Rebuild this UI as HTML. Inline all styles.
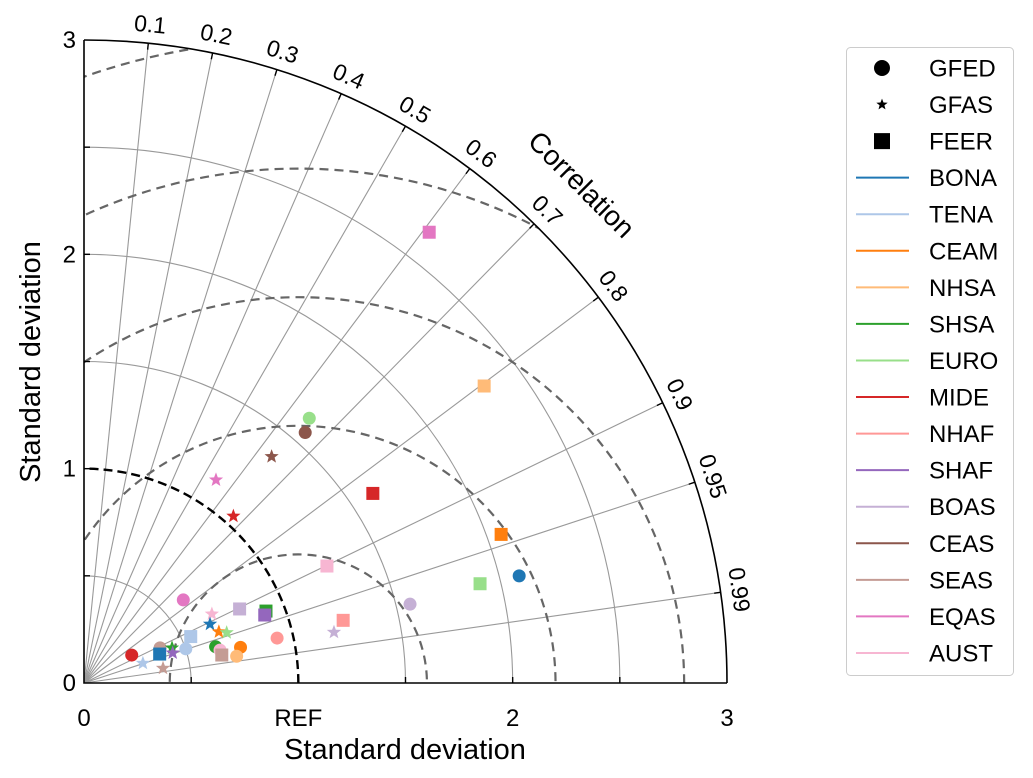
<!DOCTYPE html>
<html><head><meta charset="utf-8"><style>
html,body{margin:0;padding:0;background:#fff;overflow:hidden;width:1033px;height:778px;}
svg{display:block;font-family:"Liberation Sans",Arial,sans-serif;}
</style></head><body>
<svg id="chart" width="1033" height="778" viewBox="0 0 1033 778"></svg>
<script>
const regions = ["BONA","TENA","CEAM","NHSA","SHSA","EURO","MIDE","NHAF","SHAF","BOAS","CEAS","SEAS","EQAS","AUST"];
const regionColors = ["#1f77b4","#aec7e8","#ff7f0e","#ffbb78","#2ca02c","#98df8a","#d62728","#ff9896","#9467bd","#c5b0d5","#8c564b","#c49c94","#e377c2","#f7b6d2"];
const datasets = ["GFED","GFAS","FEER"];
const corrTicks = [0.1,0.2,0.3,0.4,0.5,0.6,0.7,0.8,0.9,0.95,0.99];
const stdArcs = [0.5,1.5,2,2.5];
const rmsCircles = [0.6,1.2,1.8,2.4,3.0];
const refStd = 1;
// points: region, dataset, std, correlation
const ptRegion = ["EQAS","MIDE","TENA","SEAS","BONA","SEAS","SHSA","SHAF","TENA","TENA","AUST","BONA","CEAM","EURO","BOAS","SHSA","SHAF","SHSA","AUST","SEAS","CEAM","NHSA","NHAF","BOAS","NHAF","AUST","EURO","CEAS","CEAS","EQAS","MIDE","MIDE","CEAM","BONA","EURO","BOAS","EQAS","NHSA"];
const ptDataset = ["GFED","GFED","GFAS","GFED","FEER","GFAS","GFAS","GFAS","GFED","FEER","GFAS","GFAS","GFAS","GFAS","FEER","FEER","FEER","GFED","GFED","FEER","GFED","GFED","GFED","GFAS","FEER","FEER","GFED","GFED","GFAS","GFAS","GFAS","FEER","FEER","GFED","FEER","GFED","FEER","FEER"];
const ptStd = [0.604,0.258,0.290,0.391,0.378,0.375,0.442,0.437,0.501,0.543,0.678,0.649,0.673,0.706,0.804,0.913,0.901,0.637,0.653,0.656,0.749,0.723,0.925,1.190,1.244,1.258,1.622,1.559,1.372,1.130,1.045,1.612,2.066,2.091,1.905,1.565,2.649,2.325];
const ptCorr = [0.767,0.863,0.948,0.908,0.934,0.983,0.929,0.947,0.948,0.917,0.880,0.906,0.935,0.943,0.903,0.930,0.936,0.964,0.972,0.980,0.975,0.985,0.974,0.980,0.972,0.901,0.648,0.662,0.638,0.545,0.667,0.836,0.942,0.971,0.970,0.972,0.608,0.803];

const NS="http://www.w3.org/2000/svg";
const svg=document.getElementById('chart');
const ox=84, oy=683, scale=(727-84)/3, maxStd=3;
const X=v=>ox+v*scale, Y=v=>oy-v*scale;
function P(s,c){const a=Math.acos(c);return [X(s*Math.cos(a)),Y(s*Math.sin(a))];}
function el(tag,attrs,parent){const e=document.createElementNS(NS,tag);for(const k in attrs)e.setAttribute(k,attrs[k]);(parent||svg).appendChild(e);return e;}

const grid=el('g',{});


corrTicks.forEach(c=>{const [x,y]=P(maxStd,c);
  const l=el('line',{x1:ox,y1:oy,x2:x,y2:y,stroke:'#999','stroke-width':1.1},grid);
  
  
});
stdArcs.forEach(s=>{
  const a=el('path',{d:`M${X(s)},${oy} A${s*scale},${s*scale} 0 0 0 ${ox},${Y(s)}`,fill:'none',stroke:'#999','stroke-width':1.1},grid);
  
  
});
el('clipPath',{id:'quad'}).appendChild((()=>{const p=document.createElementNS(NS,'path');p.setAttribute('d',`M${ox},${oy} L${X(maxStd)},${oy} A${maxStd*scale},${maxStd*scale} 0 0 0 ${ox},${Y(maxStd)} Z`);return p;})());
rmsCircles.forEach(r=>{
  const c=el('circle',{cx:X(refStd),cy:oy,r:r*scale,fill:'none',stroke:'#666','stroke-width':2.2,'stroke-dasharray':'9,6','clip-path':'url(#quad)'},grid);
  
  
});
const ra=el('path',{d:`M${X(refStd)},${oy} A${refStd*scale},${refStd*scale} 0 0 0 ${ox},${Y(refStd)}`,fill:'none',stroke:'#000','stroke-width':2.4,'stroke-dasharray':'9,5'});


const oa=el('path',{d:`M${X(maxStd)},${oy} A${maxStd*scale},${maxStd*scale} 0 0 0 ${ox},${Y(maxStd)}`,fill:'none',stroke:'#000','stroke-width':1.6});


const ax=el('path',{d:`M${ox},${Y(maxStd)} L${ox},${oy} L${X(maxStd)},${oy}`,fill:'none',stroke:'#000','stroke-width':1.6});


[0.5,1,1.5,2,2.5].forEach(v=>{el('line',{x1:X(v),y1:oy,x2:X(v),y2:oy-6,stroke:'#000','stroke-width':1.4});});
[0.5,1,1.5,2,2.5].forEach(v=>{el('line',{x1:ox,y1:Y(v),x2:ox+6,y2:Y(v),stroke:'#000','stroke-width':1.4});});
corrTicks.forEach(c=>{
  const a=Math.acos(c);
  const [x1,y1]=P(maxStd,c),[x2,y2]=P(maxStd-0.03,c);
  el('line',{x1,y1,x2,y2,stroke:'#000','stroke-width':1.4});
  const [lx,ly]=P(maxStd+0.08,c);
  const t=el('text',{x:lx,y:ly,'font-size':23,'text-anchor':'middle','dominant-baseline':'middle',transform:`rotate(${90-a*180/Math.PI},${lx},${ly})`});
  t.textContent=String(c);
  
  
});
const ct=el('text',{x:580,y:186,'font-size':28,'text-anchor':'middle','dominant-baseline':'middle',transform:'rotate(45,580,186)'});
ct.textContent='Correlation';


const yl=["0","1","2","3"];
yl.forEach((s,i)=>{const t=el('text',{x:ox-8,y:Y(i)+8,'font-size':24,'text-anchor':'end'});t.textContent=s;
  
  });
const xl=[[0,"0"],[1,"REF"],[2,"2"],[3,"3"]];
xl.forEach(([v,s])=>{const t=el('text',{x:X(v),y:726,'font-size':24,'text-anchor':'middle'});t.textContent=s;
  
  });
const xt=el('text',{x:405,y:759,'font-size':29,'text-anchor':'middle'});xt.textContent='Standard deviation';


const yt=el('text',{x:40,y:362,'font-size':29,'text-anchor':'middle',transform:'rotate(-90,40,362)'});yt.textContent='Standard deviation';



function starPath(cx,cy,R){const r=R*0.42;let d='';for(let i=0;i<10;i++){const rr=i%2?r:R;const a=-Math.PI/2+i*Math.PI/5;d+=(i?'L':'M')+(cx+rr*Math.cos(a)).toFixed(1)+','+(cy+rr*Math.sin(a)).toFixed(1);}return d+'Z';}
function marker(kind,x,y,color,parent,big){
  if(kind==='GFED')return el('circle',{cx:x,cy:y,r:big?8:6.5,fill:color},parent);
  if(kind==='GFAS')return el('path',{d:starPath(x,y,big?6:7.5),fill:color},parent);
  const h=big?8:6.5;return el('rect',{x:x-h,y:y-h,width:2*h,height:2*h,fill:color},parent);
}
const pts=el('g',{});


ptStd.forEach((s,i)=>{
  const [x,y]=P(s,ptCorr[i]);
  const m=marker(ptDataset[i],x,y,regionColors[regions.indexOf(ptRegion[i])],pts,false);
  
  
});
const lg=el('g',{});


el('rect',{x:846.5,y:47.5,width:167,height:628,rx:4,fill:'#fff',stroke:'#ccc','stroke-width':1},lg);
const step=36.56;
datasets.forEach((d,i)=>{const y=68+i*step;
  const g=el('g',{},lg);
  
  
  marker(d,882,y,'#000',g,true);
  const t=el('text',{x:929,y:y+8.5,'font-size':24},g);t.textContent=d;});
regions.forEach((r,i)=>{const y=68+(i+3)*step;
  const g=el('g',{},lg);
  
  
  el('line',{x1:856,y1:y,x2:909,y2:y,stroke:regionColors[i],'stroke-width':2},g);
  const t=el('text',{x:929,y:y+8.5,'font-size':24},g);t.textContent=r;});
</script>
</body></html>
